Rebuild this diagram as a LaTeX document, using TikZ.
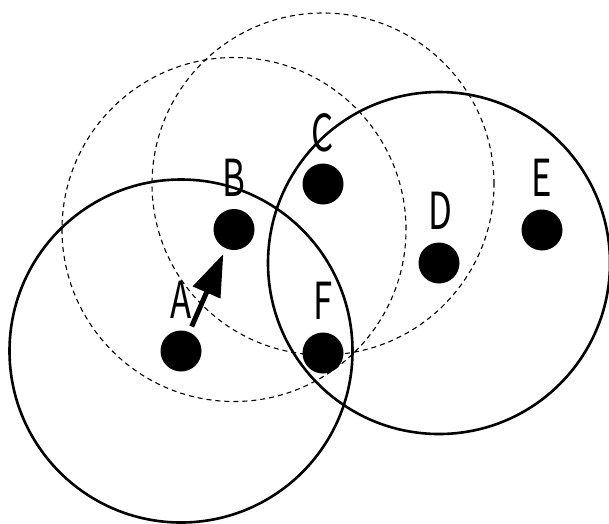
\documentclass[tikz,border=0pt]{standalone}
\usepackage{fontspec}
\newfontfamily\lblfont[FakeStretch=0.68]{Noto Sans CJK JP}
\usetikzlibrary{arrows.meta}
\begin{document}
\begin{tikzpicture}[x=1pt,y=-1pt,
  dotnode/.style={circle,fill=black,draw=none,minimum size=41pt,inner sep=0pt},
  lblnode/.style={font=\lblfont\fontsize{51}{51}\selectfont,inner sep=0pt,anchor=center},
  rangesolid/.style={line width=2.6pt},
  rangedash/.style={line width=1.1pt,dash pattern=on 5pt off 4pt},
  moveline/.style={line width=5pt,-{Triangle[length=42pt,width=29pt]},shorten <=6pt,shorten >=6pt}]
\useasboundingbox (0,0) rectangle (609,523);
\coordinate (cA) at (181,351);
\coordinate (cB) at (234,229.5);
\coordinate (cC) at (323,184);
\coordinate (cD) at (439,263);
\draw[rangesolid] (cA) circle[radius=171.5pt];
\draw[rangesolid] (cD) circle[radius=171pt];
\draw[rangedash] (cB) circle[radius=172pt];
\draw[rangedash] (cC) circle[radius=171pt];
\node[dotnode] (A) at (cA) {};
\node[dotnode] (B) at (cB) {};
\node[dotnode] (C) at (cC) {};
\node[dotnode] (D) at (cD) {};
\node[dotnode] (E) at (542,230) {};
\node[dotnode] (F) at (323,353) {};
\node[lblnode] (lA) at (181,300) {A};
\node[lblnode] (lB) at (234,178) {B};
\node[lblnode] (lC) at (323,133) {C};
\node[lblnode] (lD) at (440,211) {D};
\node[lblnode] (lE) at (542,178) {E};
\node[lblnode] (lF) at (323,301) {F};
\draw[moveline] (A) -- (B);
\end{tikzpicture}
\end{document}
